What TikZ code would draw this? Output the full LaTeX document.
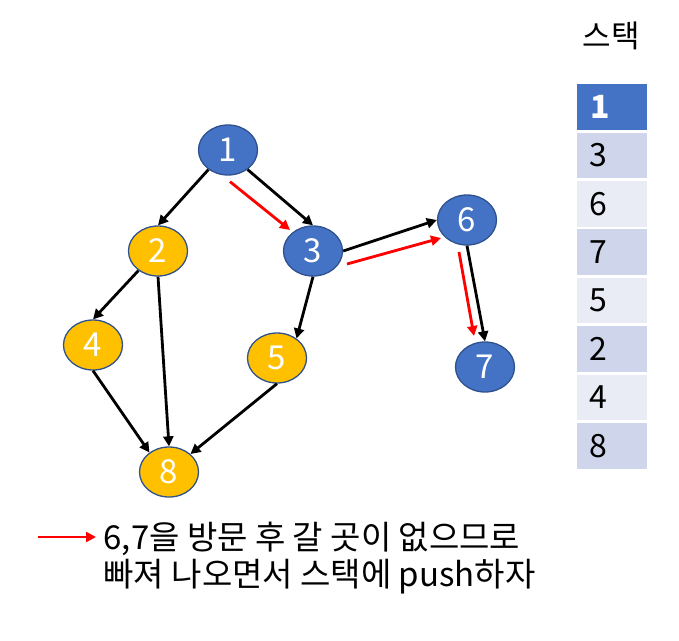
\documentclass[tikz,border=0pt]{standalone}
\usepackage{fontspec}
\setmainfont{Noto Sans CJK KR}
\usetikzlibrary{shapes.geometric,arrows.meta}
\definecolor{nodeblue}{HTML}{4472C4}
\definecolor{lineblue}{HTML}{2F528F}
\definecolor{nodegold}{HTML}{FFC000}
\definecolor{stackdark}{HTML}{CFD5EA}
\definecolor{stacklight}{HTML}{E9EBF5}

\begin{document}
\begin{tikzpicture}[x=1pt,y=-1pt,
        vtx/.style={ellipse, draw=lineblue, line width=1.3pt, minimum width=59pt, minimum height=50pt, inner sep=0pt, text=white, font=\fontsize{33}{33}\selectfont},
        seen/.style={vtx, fill=nodeblue},
        todo/.style={vtx, fill=nodegold},
        edge/.style={line width=2.8pt, -{Triangle[length=10pt,width=10pt]}},
        back/.style={edge, red},
        cell/.style={minimum width=70pt, minimum height=45.5pt, inner sep=0pt, anchor=north west}]
        \useasboundingbox (0,0) rectangle (679,640);

        \node[seen] (n1) at (228,150) {1};
        \node[todo] (n2) at (158,251) {2};
        \node[seen] (n3) at (313,251) {3};
        \node[todo] (n4) at (93,345) {4};
        \node[todo] (n5) at (277,358) {5};
        \node[seen] (n6) at (467,220) {6};
        \node[seen] (n7) at (485,367) {7};
        \node[todo] (n8) at (169,472) {8};

        \draw[edge] (n1.-135) -- (n2.north);
        \draw[edge] (n1.-45) -- (n3.north);
        \draw[edge] (n2.-135) -- (n4.north);
        \draw[edge] (n2.south) -- (n8.north);
        \draw[edge] (n4.south) -- (n8.135);
        \draw[edge] (n3.south) -- (n5.45);
        \draw[edge] (n5.south) -- (n8.40);
        \draw[edge] (n3.east) -- (n6.west);
        \draw[edge] (n6.south) -- (n7.north);

        \draw[back] ([shift={(2,6)}]n1.south) -- ([shift={(-23,-21)}]n3.center);
        \draw[back] ([shift={(34,13)}]n3.center) -- ([shift={(-26,18)}]n6.center);
        \draw[back] ([shift={(-8,32)}]n6.center) -- ([shift={(-11,-31)}]n7.center);

        % stack
        \node[font=\fontsize{31}{31}\selectfont] (title) at (611,36) {스택};
        \node[cell, fill=nodeblue] (s1) at (577,84) {};
        \node[anchor=west, text=white, font=\bfseries\fontsize{32}{32}\selectfont] at (s1.west) [xshift=10pt] {1};
        \foreach \v [count=\i] in {3,6,7,5,2,4,8}
        {
            \pgfmathsetmacro{\top}{84+48.4*\i}
            \ifodd\i \def\col{stackdark}\else\def\col{stacklight}\fi
            \node[cell, fill=\col] (s\v) at (577,\top) {};
            \node[anchor=west, font=\fontsize{32}{32}\selectfont] at (s\v.west) [xshift=9pt] {\v};
        }

        % legend
        \coordinate (l0) at (38,537);
        \coordinate (l1) at (96,537);
        \draw[back, line width=2.4pt] (l0) -- (l1);
        \node[anchor=west, align=left, font=\fontsize{33}{37}\selectfont] (note) at (100,558)
            {6,7을 방문 후 갈 곳이 없으므로\\빠져 나오면서 스택에 push하자};
\end{tikzpicture}
\end{document}
